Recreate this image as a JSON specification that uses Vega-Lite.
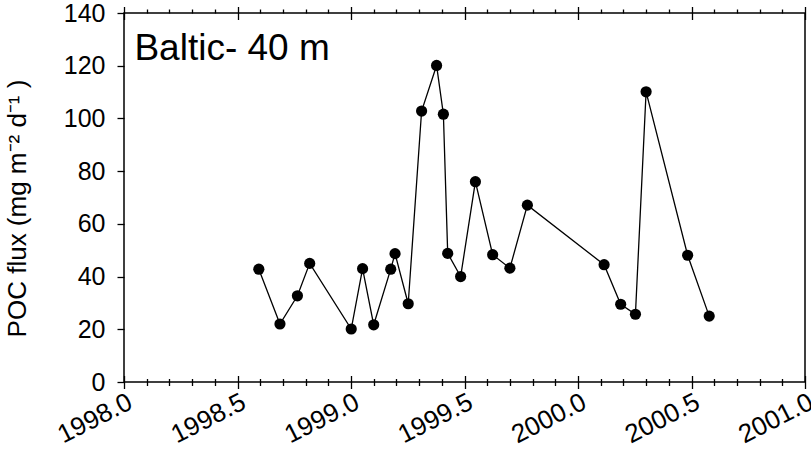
{
  "$schema": "https://vega.github.io/schema/vega-lite/v6.json",
  "width": 681,
  "height": 369,
  "autosize": {"type": "none"},
  "padding": {"left": 124, "top": 13, "right": 6, "bottom": 80},
  "background": "white",
  "config": {
    "view": {"stroke": "black", "strokeWidth": 1.5},
    "font": "Liberation Sans",
    "axis": {
      "grid": false,
      "domain": false,
      "tickColor": "black",
      "tickWidth": 1.3,
      "labelColor": "black",
      "labelFont": "Liberation Sans",
      "labelFontSize": 25,
      "titleFont": "Liberation Sans",
      "titleFontSize": 25,
      "titleFontWeight": "normal",
      "titleColor": "black"
    }
  },
  "data": {
    "values": [
      {"year": 1998.594, "flux": 42.8},
      {"year": 1998.687, "flux": 22.0},
      {"year": 1998.764, "flux": 32.7},
      {"year": 1998.818, "flux": 45.0},
      {"year": 1999.001, "flux": 20.1},
      {"year": 1999.051, "flux": 43.0},
      {"year": 1999.100, "flux": 21.7},
      {"year": 1999.175, "flux": 42.8},
      {"year": 1999.194, "flux": 48.7},
      {"year": 1999.252, "flux": 29.7},
      {"year": 1999.311, "flux": 102.8},
      {"year": 1999.377, "flux": 120.1},
      {"year": 1999.407, "flux": 101.6},
      {"year": 1999.426, "flux": 48.8},
      {"year": 1999.483, "flux": 40.0},
      {"year": 1999.548, "flux": 76.0},
      {"year": 1999.624, "flux": 48.3},
      {"year": 1999.700, "flux": 43.2},
      {"year": 1999.777, "flux": 67.1},
      {"year": 2000.115, "flux": 44.5},
      {"year": 2000.188, "flux": 29.5},
      {"year": 2000.253, "flux": 25.7},
      {"year": 2000.300, "flux": 110.1},
      {"year": 2000.483, "flux": 48.1},
      {"year": 2000.578, "flux": 25.0}
    ]
  },
  "resolve": {"axis": {"x": "independent", "y": "independent"}},
  "layer": [
    {
      "mark": {"type": "line", "color": "black", "strokeWidth": 1.3},
      "encoding": {
        "x": {
          "field": "year",
          "type": "quantitative",
          "scale": {"domain": [1998, 2001], "nice": false, "zero": false},
          "axis": {
            "orient": "bottom",
            "values": [1998, 1998.5, 1999, 1999.5, 2000, 2000.5, 2001],
            "format": ".1f",
            "offset": -6.5,
            "tickSize": 13,
            "labelFontSize": 26,
            "labelAngle": -27,
            "labelAlign": "right",
            "labelBaseline": "top",
            "labelPadding": 0,
            "labelOverlap": false,
            "labelFlush": false,
            "title": null
          }
        },
        "y": {
          "field": "flux",
          "type": "quantitative",
          "scale": {"domain": [0, 140], "nice": false},
          "axis": {
            "orient": "left",
            "values": [0, 20, 40, 60, 80, 100, 120, 140],
            "tickSize": 7,
            "labelFontSize": 25,
            "labelPadding": 12,
            "labelOverlap": false,
            "labelFlush": false,
            "title": "POC flux (mg m⁻²   d⁻¹ )",
            "titleFontSize": 26,
            "titlePadding": 33,
            "titleY": 195
          }
        }
      }
    },
    {
      "mark": {"type": "point", "filled": true, "color": "black", "size": 125, "opacity": 1},
      "encoding": {
        "x": {
          "field": "year",
          "type": "quantitative",
          "axis": {
            "orient": "bottom",
            "values": [1998.1, 1998.2, 1998.3, 1998.4, 1998.6, 1998.7, 1998.8, 1998.9, 1999.1, 1999.2, 1999.3, 1999.4, 1999.6, 1999.7, 1999.8, 1999.9, 2000.1, 2000.2, 2000.3, 2000.4, 2000.6, 2000.7, 2000.8, 2000.9],
            "offset": -3.5,
            "tickSize": 7,
            "labels": false,
            "title": null
          }
        },
        "y": {"field": "flux", "type": "quantitative", "axis": null}
      }
    },
    {
      "data": {"values": [{"label": "Baltic- 40 m"}]},
      "mark": {"type": "text", "align": "left", "baseline": "alphabetic", "fontSize": 37, "color": "black", "font": "Liberation Sans"},
      "encoding": {
        "text": {"field": "label"},
        "x": {
          "datum": 1998.046,
          "type": "quantitative",
          "axis": {
            "orient": "top",
            "values": [1998, 1998.5, 1999, 1999.5, 2000, 2000.5, 2001],
            "offset": -6.5,
            "tickSize": 13,
            "labels": false,
            "title": null
          }
        },
        "y": {"datum": 122.2, "type": "quantitative", "axis": null}
      }
    },
    {
      "mark": {"type": "point", "filled": true, "color": "black", "size": 125, "opacity": 0},
      "encoding": {
        "x": {
          "field": "year",
          "type": "quantitative",
          "axis": {
            "orient": "top",
            "values": [1998.1, 1998.2, 1998.3, 1998.4, 1998.6, 1998.7, 1998.8, 1998.9, 1999.1, 1999.2, 1999.3, 1999.4, 1999.6, 1999.7, 1999.8, 1999.9, 2000.1, 2000.2, 2000.3, 2000.4, 2000.6, 2000.7, 2000.8, 2000.9],
            "tickSize": 4,
            "labels": false,
            "title": null
          }
        },
        "y": {"field": "flux", "type": "quantitative", "axis": null}
      }
    }
  ]
}
